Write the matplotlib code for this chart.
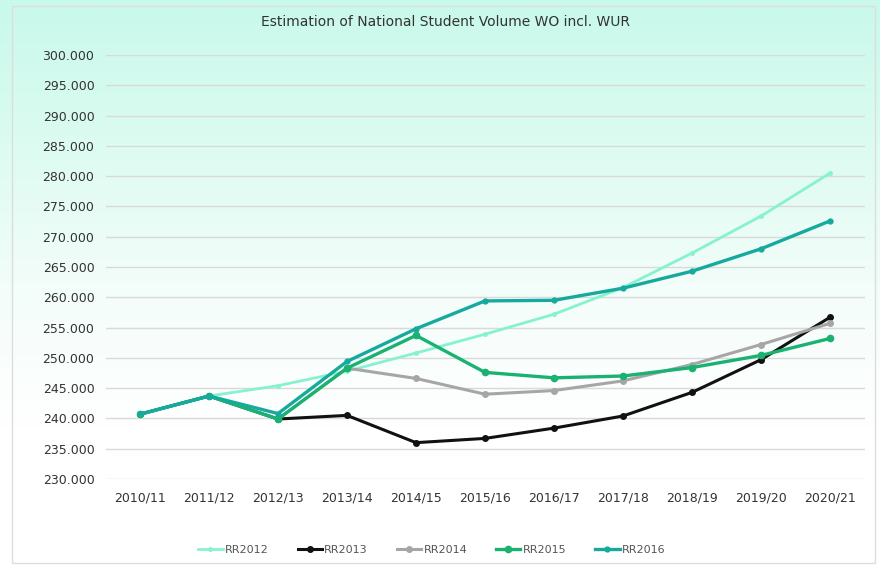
import numpy as np
import matplotlib.pyplot as plt
from matplotlib.colors import LinearSegmentedColormap
from matplotlib.patches import Rectangle

# Study years on the x axis
years = ['2010/11', '2011/12', '2012/13', '2013/14', '2014/15', '2015/16',
         '2016/17', '2017/18', '2018/19', '2019/20', '2020/21']

# Estimated student volume per forecast round
rr2012 = [240700, 243700, 245400, 247800, 250800, 253900, 257200, 261600, 267300, 273400, 280500]
rr2013 = [240700, 243700, 239900, 240500, 236000, 236700, 238400, 240400, 244300, 249700, 256700]
rr2014 = [240700, 243700, 239900, 248300, 246600, 244000, 244600, 246200, 248900, 252200, 255700]
rr2015 = [240700, 243700, 239900, 248300, 253700, 247600, 246700, 247000, 248400, 250400, 253200]
rr2016 = [240700, 243700, 240800, 249400, 254800, 259400, 259500, 261500, 264300, 268000, 272600]

series = [
    ('RR2012', rr2012, '#86f2cf', 2.0, 2.5),
    ('RR2013', rr2013, '#111111', 2.2, 4),
    ('RR2014', rr2014, '#a6a6a6', 2.2, 4),
    ('RR2015', rr2015, '#19b271', 2.4, 4.5),
    ('RR2016', rr2016, '#16aa9e', 2.4, 3.5),
]

fig = plt.figure(figsize=(8.8, 5.68), dpi=100)

# background: mint gradient fading to white, with a thin frame
bg = fig.add_axes([0, 0, 1, 1], zorder=-10)
grad = np.linspace(0, 1, 256).reshape(-1, 1)
cmap = LinearSegmentedColormap.from_list('mint', ['#c8f9ea', '#dcfbf1', '#f3fdfa', '#ffffff', '#ffffff'])
bg.imshow(grad, aspect='auto', cmap=cmap, extent=[0, 1, 0, 1], origin='upper')
bg.add_patch(Rectangle((0.014, 0.008), 0.98, 0.982, fill=False, edgecolor='#dddddd', lw=1))
bg.set_xlim(0, 1)
bg.set_ylim(0, 1)
bg.axis('off')

ax = fig.add_axes([0.1199, 0.1567, 0.8625, 0.7465])
ax.patch.set_alpha(0)
x = np.arange(len(years))
for name, vals, color, lw, ms in series:
    ax.plot(x, vals, color=color, lw=lw, marker='o', markersize=ms, label=name)

ax.set_xlim(-0.5, len(years) - 0.5)
ax.set_ylim(230000, 300000)
ax.set_yticks(np.arange(230000, 300001, 5000))
ax.set_yticklabels([f'{v // 1000}.000' for v in range(230000, 300001, 5000)])
ax.set_xticks(x)
ax.set_xticklabels(years)
ax.tick_params(length=0, labelsize=9, labelcolor='#333333', pad=8)
ax.tick_params(axis='x', pad=9)
ax.grid(axis='y', color='#d9d9d9', lw=1)
ax.set_axisbelow(True)
for s in ax.spines.values():
    s.set_visible(False)

fig.text(0.506, 0.962, 'Estimation of National Student Volume WO incl. WUR',
         ha='center', va='center', fontsize=10, color='#333333')

ax.legend(loc='center', bbox_to_anchor=(0.43, -0.167), ncol=5, frameon=False,
          fontsize=8, labelcolor='#555555', handlelength=2.2, handletextpad=0.2,
          columnspacing=2.6)

fig.savefig('out.png', dpi=100)
